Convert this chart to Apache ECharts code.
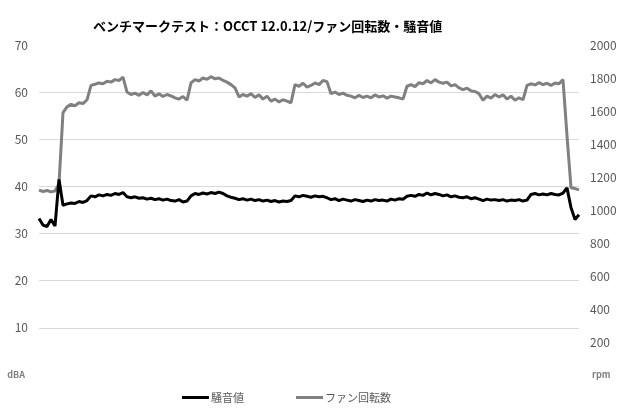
<!DOCTYPE html>
<html>
<head>
<meta charset="utf-8">
<script src="https://cdn.jsdelivr.net/npm/echarts@6/dist/echarts.min.js"></script>
<style>
  html, body { margin: 0; padding: 0; background: #fff; }
  #chart { width: 620px; height: 410px; }
</style>
</head>
<body>
<div id="chart"></div>
<script>
// ファン回転数 (rpm), sampled left to right
const fanRpm = [
  1120, 1112, 1118, 1110, 1115, 1160, 1590, 1625, 1640, 1632,
  1650, 1645, 1668, 1755, 1762, 1770, 1765, 1780, 1775, 1790,
  1785, 1805, 1715, 1700, 1708, 1695, 1712, 1698, 1722, 1690,
  1705, 1688, 1700, 1692, 1680, 1672, 1688, 1665, 1770, 1790,
  1782, 1800, 1792, 1808, 1795, 1800, 1785, 1775, 1760, 1740,
  1685, 1700, 1690, 1705, 1682, 1698, 1672, 1690, 1660, 1672,
  1655, 1668, 1660, 1650, 1760, 1750, 1768, 1745, 1755, 1770,
  1760, 1785, 1778, 1705, 1715, 1700, 1708, 1695, 1690, 1680,
  1695, 1682, 1690, 1680, 1698, 1685, 1692, 1678, 1690, 1685,
  1680, 1672, 1750, 1760, 1748, 1772, 1765, 1785, 1770, 1790,
  1775, 1768, 1775, 1752, 1760, 1740, 1730, 1738, 1722, 1718,
  1705, 1665, 1690, 1678, 1700, 1685, 1698, 1672, 1690, 1665,
  1680, 1668, 1755, 1765, 1758, 1772, 1760, 1768, 1755, 1770,
  1765, 1790, 1450, 1135, 1130, 1122
];

// 騒音値 (dBA)
const noiseDba = [
  33.2, 31.8, 31.5, 33.0, 31.6, 41.5, 36.0, 36.3, 36.5, 36.4,
  36.8, 36.6, 37.0, 38.0, 37.8, 38.2, 38.0, 38.3, 38.1, 38.5,
  38.3, 38.7, 37.8, 37.6, 37.8, 37.5, 37.6, 37.3, 37.5, 37.2,
  37.4, 37.1, 37.3, 37.0, 36.9, 37.2, 36.7, 36.9, 38.0, 38.5,
  38.3, 38.6, 38.4, 38.7, 38.5, 38.8, 38.5, 38.0, 37.7, 37.5,
  37.2, 37.4, 37.1, 37.3, 37.0, 37.2, 36.9, 37.1, 36.8, 37.0,
  36.7, 36.9, 36.8, 37.0, 38.0, 37.8, 38.1, 37.9, 37.7, 38.0,
  37.8, 37.9, 37.6, 37.2, 37.4, 37.0, 37.3, 37.1, 36.9, 37.2,
  37.0, 36.8, 37.1, 36.9, 37.2, 37.0, 37.1, 36.9, 37.3, 37.1,
  37.4, 37.3, 37.9, 38.1, 37.9, 38.3, 38.1, 38.6, 38.2, 38.5,
  38.3, 38.0, 38.2, 37.8, 38.0, 37.7, 37.6, 37.8, 37.4, 37.6,
  37.3, 37.0, 37.3, 37.1, 37.2, 37.0, 37.2, 36.9, 37.1, 37.0,
  37.2, 36.9, 37.1, 38.3, 38.5, 38.2, 38.4, 38.2, 38.5, 38.3,
  38.2, 38.6, 39.7, 35.5, 33.0, 34.0
];

const samples = fanRpm.map((_, i) => i);

const font = '"Noto Sans CJK JP", "Noto Sans", sans-serif';
const chart = echarts.init(document.getElementById('chart'));

chart.setOption({
  animation: false,
  textStyle: { fontFamily: font },
  title: {
    text: 'ベンチマークテスト：OCCT 12.0.12/ファン回転数・騒音値',
    left: 88, top: 15,
    textStyle: { fontSize: 13, fontWeight: 'bold', color: '#000', fontFamily: font }
  },
  grid: { left: 39, right: 41, top: 45, bottom: 35 },
  legend: {
    data: ['騒音値', 'ファン回転数'],
    left: 177, top: 387,
    icon: 'rect', itemWidth: 27, itemHeight: 3, itemGap: 52,
    textStyle: { fontSize: 11, color: '#595959', fontFamily: font, padding: [0, 0, 0, -3] }
  },
  xAxis: {
    type: 'category', data: samples, boundaryGap: false,
    axisLine: { show: false }, axisTick: { show: false }, axisLabel: { show: false },
    splitLine: { show: false }
  },
  yAxis: [{
    type: 'value', min: 0, max: 70, interval: 10,
    axisLine: { show: false }, axisTick: { show: false },
    axisLabel: {
      margin: 11, fontSize: 12, color: '#595959', fontFamily: font,
      formatter: v => v === 0 ? '{u|dBA}' : String(v),
      rich: { u: { fontSize: 9, fontWeight: 'bold', color: '#7f7f7f', padding: [0, 3, 0, 0] } }
    },
    splitLine: { show: true, showMinLine: false, showMaxLine: false, lineStyle: { color: '#d9d9d9', width: 1 } }
  }, {
    type: 'value', min: 0, max: 2000, interval: 200,
    axisLine: { show: false }, axisTick: { show: false },
    axisLabel: {
      margin: 11, fontSize: 12, color: '#595959', fontFamily: font,
      formatter: v => v === 0 ? '{u|rpm}' : String(v),
      rich: { u: { fontSize: 9, fontWeight: 'bold', color: '#7f7f7f', padding: [0, 0, 0, 2] } }
    },
    splitLine: { show: false }
  }],
  series: [{
    name: 'ファン回転数', type: 'line', yAxisIndex: 1, data: fanRpm,
    showSymbol: false, lineStyle: { color: '#808080', width: 3 }, itemStyle: { color: '#808080' }
  }, {
    name: '騒音値', type: 'line', yAxisIndex: 0, data: noiseDba,
    showSymbol: false, lineStyle: { color: '#000', width: 3 }, itemStyle: { color: '#000' }
  }]
});
</script>
</body>
</html>
